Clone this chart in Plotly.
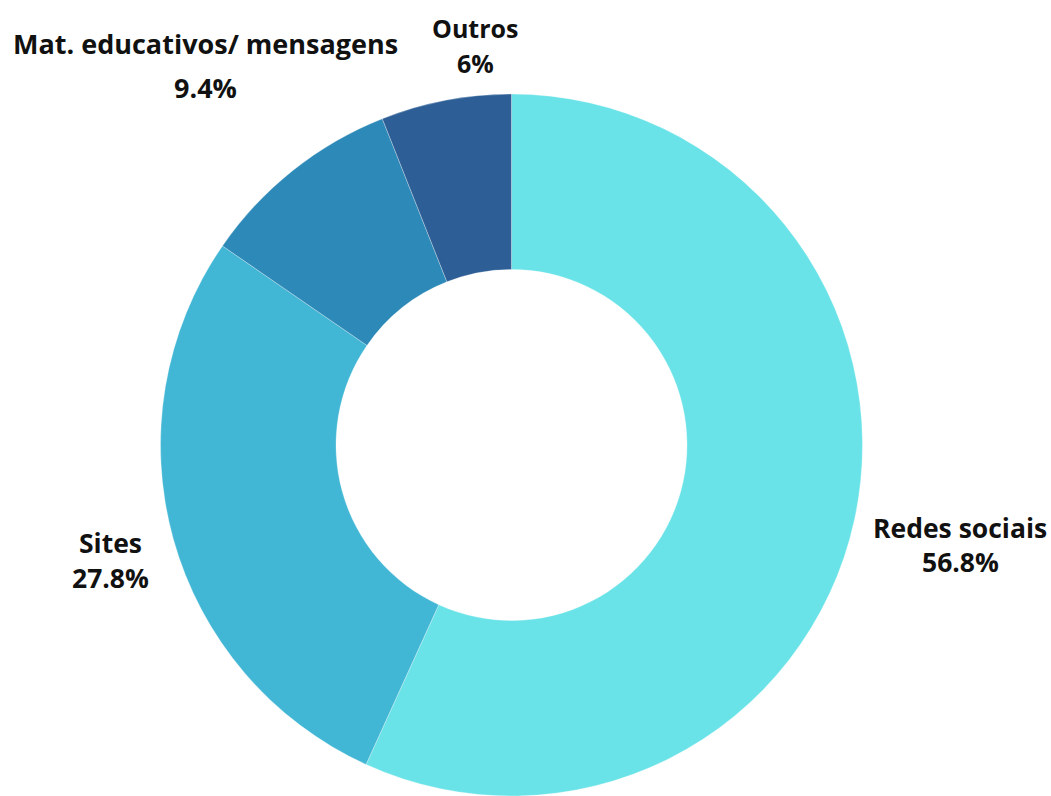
import plotly.graph_objects as go

labels = ["Redes sociais", "Sites", "Mat. educativos/ mensagens", "Outros"]
values = [56.8, 27.8, 9.4, 6.0]
colors = ["#6AE3E8", "#42B7D5", "#2C89B8", "#2D5F96"]

W, H = 1051, 796

# label layout (pixel centres of the two text lines for each slice)
label_layout = {
    "Redes sociais": dict(x=960, y1=528, y2=561.5, size=26.5),
    "Sites": dict(x=110, y1=542.5, y2=577.5, size=26.5),
    "Mat. educativos/ mensagens": dict(x=205, y1=43.5, y2=87, size=27),
    "Outros": dict(x=475, y1=27.5, y2=62.5, size=25),
}

fig = go.Figure(go.Pie(
    labels=labels,
    values=values,
    hole=0.5,
    sort=False,
    direction="clockwise",
    rotation=0,
    automargin=False,
    marker=dict(colors=colors, line=dict(color="rgba(255,255,255,0.6)", width=0.5)),
    textinfo="none",
    showlegend=False,
    domain=dict(x=[160.5/W, 862.5/W], y=[0, 702/H]),
))

total = sum(values)
annotations = []
for lab, val in zip(labels, values):
    lay = label_layout[lab]
    pct = val / total * 100
    pct_txt = f"{pct:.1f}".rstrip("0").rstrip(".") + "%"
    for txt, py in ((lab, lay["y1"]), (pct_txt, lay["y2"])):
        annotations.append(dict(
            text=f"<b>{txt}</b>",
            x=lay["x"] / W, y=1 - py / H,
            xref="paper", yref="paper",
            xanchor="center", yanchor="middle",
            showarrow=False,
            font=dict(family="Open Sans, sans-serif", size=lay["size"], color="#111111"),
        ))

fig.update_layout(
    width=W, height=H,
    margin=dict(l=0, r=0, t=0, b=0, autoexpand=False),
    paper_bgcolor="white",
    plot_bgcolor="white",
    annotations=annotations,
)

fig.write_html("out.html")
